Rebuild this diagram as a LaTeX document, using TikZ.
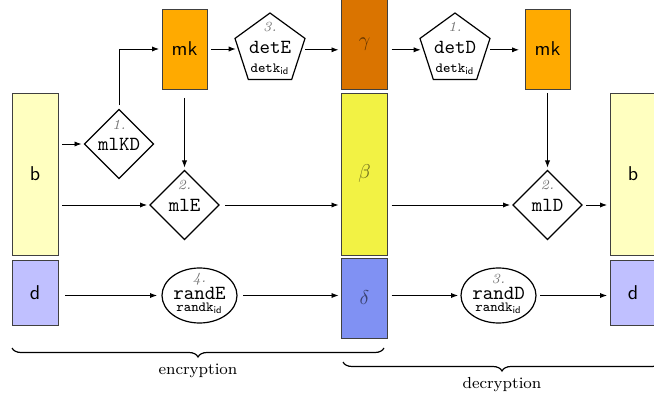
\documentclass[tikz,border=0pt]{standalone}
\usetikzlibrary{shapes.geometric,arrows.meta,decorations.pathreplacing,calc}
\definecolor{byel}{HTML}{FFFFC0}
\definecolor{dblu}{HTML}{C0C0FF}
\definecolor{mkor}{HTML}{FFAA00}
\definecolor{gamc}{HTML}{DA7400}
\definecolor{betc}{HTML}{F2F244}
\definecolor{delc}{HTML}{8091F3}
\begin{document}
\begin{tikzpicture}[x=0.5pt,y=-0.5pt,
  box/.style={draw=black!75, line width=0.4pt, minimum width=23pt, inner sep=0pt, outer sep=0pt, font=\sffamily},
  greek/.style={box, text opacity=0.55},
  dia/.style={draw, diamond, minimum size=34.5pt, inner sep=0pt, outer sep=0pt, line width=0.6pt},
  pent/.style={draw, regular polygon, regular polygon sides=5, minimum size=36.8pt, inner sep=0pt, outer sep=0pt, line width=0.6pt},
  ell/.style={draw, ellipse, minimum width=37.5pt, minimum height=27.5pt, inner sep=0pt, outer sep=0pt, line width=0.6pt},
  num/.style={font=\scriptsize\itshape, text=black!55, inner sep=0pt},
  maintxt/.style={font=\ttfamily, inner sep=0pt},
  subtxt/.style={font=\scriptsize\ttfamily, inner sep=0pt},
  arr/.style={-{Latex[length=3.5pt,width=2.6pt]}, line width=0.45pt, shorten >=1.5pt, shorten <=2pt},
  bracestyle/.style={decorate, decoration={brace, mirror, amplitude=4.5pt}, line width=0.6pt},
  lbl/.style={font=\footnotesize, inner sep=0pt}
]
\useasboundingbox (0,0) rectangle (654,401);

% boxes
\node[box, fill=byel, minimum height=81pt] (bL) at (35,174) {b};
\node[box, fill=dblu, minimum height=32.5pt] (dL) at (35,292.5) {d};
\node[box, fill=mkor, minimum width=22.5pt, minimum height=40pt] (mkL) at (184.5,49) {mk};
\node[greek, fill=gamc, minimum height=44.75pt] (gam) at (364.5,44.5) {$\gamma$};
\node[greek, fill=betc, minimum height=81pt] (bet) at (364.5,174) {$\beta$};
\node[greek, fill=delc, minimum height=40pt] (del) at (364.5,298) {$\delta$};
\node[box, fill=mkor, minimum width=22.5pt, minimum height=40pt] (mkR) at (547.5,49) {mk};
\node[box, fill=byel, minimum height=81pt] (bR) at (633,174) {b};
\node[box, fill=dblu, minimum height=32.5pt] (dR) at (633,292.5) {d};

% operation shapes
\node[dia] (mlKD) at (119,144) {};
\node[num] (mlKDn) at ([yshift=9.5pt]mlKD.center) {1.};
\node[maintxt] (mlKDt) at (mlKD.center) {mlKD};

\node[dia] (mlE) at (184.5,205) {};
\node[num] (mlEn) at ([yshift=10pt]mlE.center) {2.};
\node[maintxt] (mlEt) at (mlE.center) {mlE};

\node[dia] (mlD) at (547.5,205) {};
\node[num] (mlDn) at ([yshift=10pt]mlD.center) {2.};
\node[maintxt] (mlDt) at (mlD.center) {mlD};

\node[pent] (detE) at (270,49.8) {};
\node[num] (detEn) at ([yshift=11.3pt]detE.center) {3.};
\node[maintxt] (detEt) at ([yshift=1pt]detE.center) {detE};
\node[subtxt] (detEk) at ([yshift=-9.5pt]detE.center) {detk$_{\mathsf{id}}$};

\node[pent] (detD) at (455,49.8) {};
\node[num] (detDn) at ([yshift=11.3pt]detD.center) {1.};
\node[maintxt] (detDt) at ([yshift=1pt]detD.center) {detD};
\node[subtxt] (detDk) at ([yshift=-9.5pt]detD.center) {detk$_{\mathsf{id}}$};

\node[ell] (randE) at (199.5,295.5) {};
\node[num] (randEn) at ([yshift=8.3pt]randE.center) {4.};
\node[maintxt] (randEt) at ([yshift=1.2pt]randE.center) {randE};
\node[subtxt] (randEk) at ([yshift=-6.5pt]randE.center) {randk$_{\mathsf{id}}$};

\node[ell] (randD) at (498.5,295.5) {};
\node[num] (randDn) at ([yshift=8.3pt]randD.center) {3.};
\node[maintxt] (randDt) at ([yshift=1.2pt]randD.center) {randD};
\node[subtxt] (randDk) at ([yshift=-6.5pt]randD.center) {randk$_{\mathsf{id}}$};

% encryption connectors
\draw[arr] (bL.east |- mlKD) -- (mlKD.west);
\draw[arr] (mlKD.north) |- (mkL.west);
\draw[arr] (mkL.east) -- (mkL.east -| detE.west);
\draw[arr] (detE.east) -- (detE.east -| gam.west);
\draw[arr, shorten <=4.5pt] (mkL.south) -- (mlE.north);
\draw[arr] (bL.east |- mlE) -- (mlE.west);
\draw[arr, shorten <=3pt] (mlE.east) -- (mlE.east -| bet.west);
\draw[arr, shorten <=3.5pt, shorten >=2.5pt] (dL.east |- randE) -- (randE.west);
\draw[arr, shorten <=3pt] (randE.east) -- (randE.east -| del.west);

% decryption connectors
\draw[arr] (gam.east |- detD) -- (detD.west);
\draw[arr, shorten >=3pt] (detD.east) -- (detD.east -| mkR.west);
\draw[arr] (mkR.south) -- (mlD.north);
\draw[arr] (bet.east |- mlD) -- (mlD.west);
\draw[arr] (mlD.east) -- (mlD.east -| bR.west);
\draw[arr] (del.east |- randD) -- (randD.west);
\draw[arr] (randD.east) -- (randD.east -| dR.west);

% braces
\coordinate (e1) at (12,348);
\coordinate (e2) at (384,348);
\draw[bracestyle] (e1) -- (e2);
\node[lbl] (enc) at (198,371) {encryption};
\coordinate (f1) at (343,362);
\coordinate (f2) at (661,362);
\draw[bracestyle] (f1) -- (f2);
\node[lbl] (dec) at (502,385) {decryption};
\end{tikzpicture}
\end{document}
